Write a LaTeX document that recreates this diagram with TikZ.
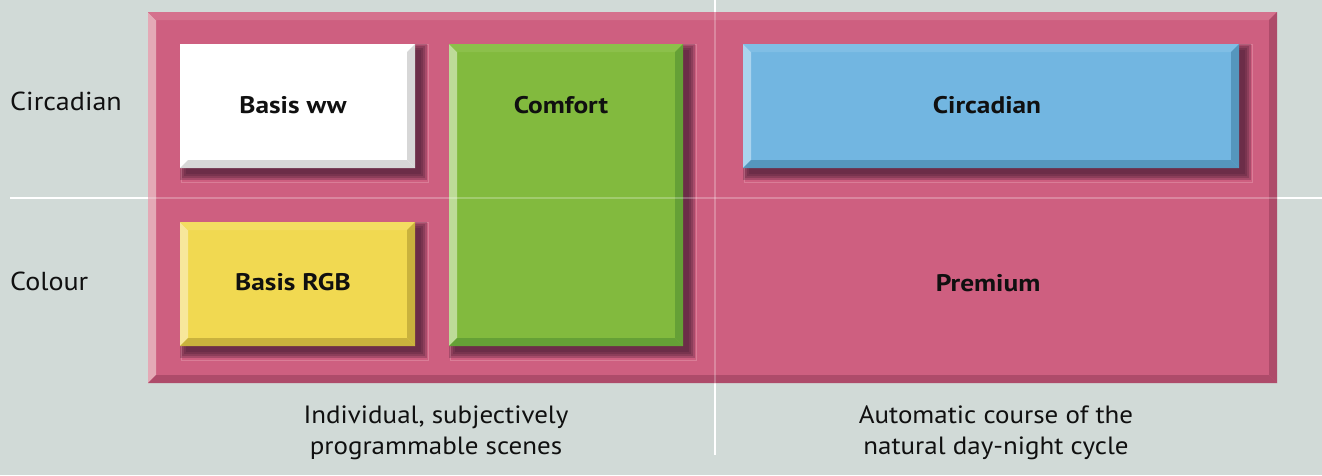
\documentclass[tikz,border=0pt]{standalone}
\usepackage{fontspec}
\setmainfont{PT Sans}[FakeStretch=1.08, BoldFeatures={FakeStretch=1.14}]
\definecolor{bgc}{HTML}{D1DAD7}
\definecolor{pinkc}{HTML}{CE5F80}
\definecolor{pinkl}{HTML}{E4A9B6}
\definecolor{pinkt}{HTML}{D5718D}
\definecolor{pinkd}{HTML}{AE4B6A}
\definecolor{pinko}{HTML}{DA7D97}
\definecolor{shadowc}{HTML}{4E2038}
\definecolor{whitel}{HTML}{FFFFFF}
\definecolor{whitet}{HTML}{FFFFFF}
\definecolor{whited}{HTML}{D7D7D7}
\definecolor{greenc}{HTML}{82BA3E}
\definecolor{greenl}{HTML}{BDDB98}
\definecolor{greent}{HTML}{8CC04B}
\definecolor{greend}{HTML}{65A036}
\definecolor{bluec}{HTML}{72B6E1}
\definecolor{bluel}{HTML}{AAD4EF}
\definecolor{bluet}{HTML}{80BEE5}
\definecolor{blued}{HTML}{5596BD}
\definecolor{yellowc}{HTML}{F1D951}
\definecolor{yellowl}{HTML}{F7E79B}
\definecolor{yellowt}{HTML}{F3DD62}
\definecolor{yellowd}{HTML}{C9B23D}
\definecolor{textc}{HTML}{101010}
% x0 y0 x1 y1 face left top dark ; bevel width 8
\newcommand\mybevelbox[8]{%
  \fill[#5] (#1,#2) rectangle (#3,#4);
  \fill[#6] (#1,#2) -- (#1+8,#2+8) -- (#1+8,#4-8) -- (#1,#4) -- cycle;
  \fill[#7] (#1,#2) -- (#3,#2) -- (#3-8,#2+8) -- (#1+8,#2+8) -- cycle;
  \fill[#8] (#3,#2) -- (#3,#4) -- (#3-8,#4-8) -- (#3-8,#2+8) -- cycle;
  \fill[#8] (#1,#4) -- (#3,#4) -- (#3-8,#4-8) -- (#1+8,#4-8) -- cycle;
}
\newcommand\myshadowbox[4]{%
  \draw[pinko, line width=0.8pt] (#1+1,#2) rectangle (#3+13,#4+14);
  \foreach \r in {6,4,2,0} {
    \fill[shadowc, opacity=0.3] (#1+6-\r,#2+6-\r) rectangle (#3+6+\r,#4+6+\r);
  }
}
\tikzset{
  boxlabel/.style={font=\bfseries\fontsize{24}{28}\selectfont, text=textc, inner sep=0pt},
  sidelabel/.style={font=\fontsize{26}{29}\selectfont, text=textc, inner sep=0pt},
  footlabel/.style={font=\fontsize{25}{31}\selectfont, text=textc, inner sep=0pt, align=center},
  gridline/.style={white, line width=2.6pt},
  gridlinein/.style={white, line width=2.6pt, opacity=0.25}
}
\begin{document}
\begin{tikzpicture}[x=1pt,y=-1pt]
\useasboundingbox (0,0) rectangle (1322,475);
\fill[bgc] (0,0) rectangle (1322,475);
% outer grid lines
\draw[gridline] (10,198) -- (1322,198);
\draw[gridline, line width=2pt] (715,0) -- (715,455);
% big pink panel
\mybevelbox{148}{12}{1277}{383}{pinkc}{pinkl}{pinkt}{pinkd}
% shadows and outlines
\myshadowbox{180}{44}{415}{168}
\myshadowbox{180}{222}{415}{346}
\myshadowbox{449}{44}{683}{346}
\myshadowbox{743}{44}{1239}{168}
% boxes
\mybevelbox{180}{44}{415}{168}{white}{whitel}{whitet}{whited}
\mybevelbox{180}{222}{415}{346}{yellowc}{yellowl}{yellowt}{yellowd}
\mybevelbox{449}{44}{683}{346}{greenc}{greenl}{greent}{greend}
\mybevelbox{743}{44}{1239}{168}{bluec}{bluel}{bluet}{blued}
% inner grid lines
\draw[gridlinein] (148,198) -- (1277,198);
\draw[gridlinein, line width=2pt] (715,12) -- (715,383);
% labels
\node[boxlabel] (basisww) at (293,105) {Basis ww};
\node[boxlabel] (basisrgb) at (293,282) {Basis RGB};
\node[boxlabel] (comfort) at (561,105) {Comfort};
\node[boxlabel] (circbox) at (987,105) {Circadian};
\node[boxlabel] (premium) at (988,283) {Premium};
\node[sidelabel, anchor=west] (circrow) at (10,101) {Circadian};
\node[sidelabel, anchor=west] (colrow) at (10,281) {Colour};
\node[footlabel] (indiv) at (436,433) {Individual, subjectively\\programmable scenes};
\node[footlabel] (auto) at (996,433) {Automatic course of the\\natural day-night cycle};
\end{tikzpicture}
\end{document}
